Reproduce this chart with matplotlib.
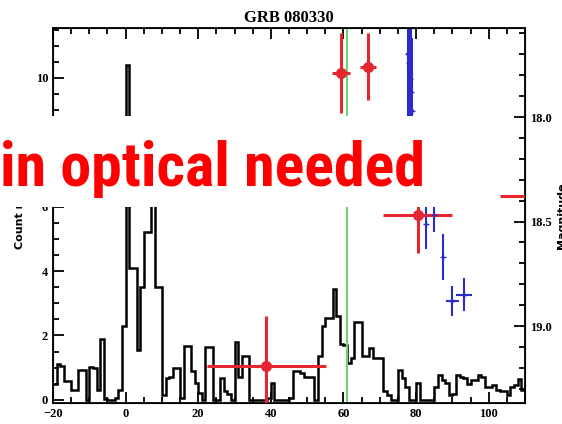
import numpy as np
import matplotlib
matplotlib.use("Agg")
import matplotlib.pyplot as plt
from matplotlib.patches import Rectangle
from matplotlib.ticker import MultipleLocator, FormatStrFormatter
from matplotlib import font_manager

# BAT light curve, 1 s bins starting at t = -20 s
t_start = -20
bin_width = 1.0
counts = [
    0.5, 1.1, 1.05, 0.57, 0.57, 0.31, 0.31, 0.93, 0.93, 0.0,
    1.03, 1.0, 0.3, 1.9, 0.03, 0.0, 0.0, 0.05, 0.3, 2.3,
    10.4, 4.1, 4.1, 1.55, 3.5, 5.2, 5.2, 7.5, 3.5, 3.5,
    0.15, 0.67, 0.72, 1.0, 1.0, 0.05, 1.68, 1.68, 0.88, 0.52,
    0.2, 0.0, 1.64, 1.64, 0.0, 0.0, 0.67, 0.26, 0.19, 0.0,
    1.81, 0.72, 1.35, 1.35, 0.0, 0.0, 0.0, 0.0, 0.0, 0.05,
    0.52, 0.0, 0.0, 0.0, 0.0, 0.05, 0.88, 0.88, 0.83, 0.72,
    0.7, 0.7, 0.0, 1.35, 2.28, 2.54, 2.54, 3.44, 2.6, 1.74,
    1.7, 1.14, 1.3, 2.43, 2.43, 1.35, 1.35, 1.6, 1.3, 1.3,
    1.3, 0.26, 0.15, 0.0, 0.0, 0.93, 0.67, 0.41, 0.0, 0.0,
    0.52, 0.0, 0.0, 0.0, 0.0, 0.41, 0.78, 0.62, 0.52, 0.15,
    0.19, 0.78, 0.72, 0.67, 0.5, 0.62, 0.62, 0.78, 0.72, 0.41,
    0.41, 0.46, 0.31, 0.26, 0.26, 0.15, 0.41, 0.46, 0.65, 0.3,
]

# optical photometry (red) and UVOT-like points (blue), in magnitudes
red_t = [38.7, 59.4, 66.8, 80.4, 118.0]
red_terr = [16.4, 2.5, 2.2, 9.5, 15.0]
red_mag = [19.19, 17.79, 17.76, 18.47, 18.38]
red_magerr = [0.24, 0.19, 0.16, 0.18, 0.0]

blue_t = [77.7, 78.0, 78.3, 78.6, 78.9, 82.8, 85.0, 87.5, 90.0, 93.2]
blue_terr = [0.5, 0.5, 0.5, 0.5, 0.5, 0.3, 1.5, 0.3, 1.9, 2.2]
blue_mag = [17.70, 17.74, 17.82, 17.88, 17.97, 18.51, 18.47, 18.67, 18.88, 18.85]
blue_magerr = [0.4, 0.35, 0.35, 0.35, 0.35, 0.12, 0.08, 0.11, 0.07, 0.08]

trigger_line = 61.0

names = {f.name for f in font_manager.fontManager.ttflist}
big_font = "DejaVu Sans"
for cand in ["Liberation Sans Narrow", "Roboto Condensed", "DejaVu Sans Condensed", "Roboto", "Noto Sans"]:
    if cand in names:
        big_font = cand
        break
serif = "Liberation Serif"

fig = plt.figure(figsize=(5.62, 4.24), dpi=100)
ax = fig.add_axes([0.0943, 0.0495, 0.8399, 0.8844])

edges = t_start + bin_width * np.arange(len(counts) + 1)
ax.stairs(counts, edges, color="black", linewidth=1.8, baseline=None)
ax.axvline(trigger_line, color="#6fd16f", linewidth=1.5, zorder=1)

ax.set_xlim(-20, 110)
ax.set_ylim(-0.1, 11.55)
ax.xaxis.set_major_locator(MultipleLocator(20))
ax.xaxis.set_minor_locator(MultipleLocator(5))
ax.yaxis.set_major_locator(MultipleLocator(2))
ax.yaxis.set_minor_locator(MultipleLocator(0.5))
ax.tick_params(which="both", direction="in", top=True, right=False, width=1.3)
ax.tick_params(which="major", length=8)
ax.tick_params(which="minor", length=4)
for lab in ax.get_xticklabels() + ax.get_yticklabels():
    lab.set_fontfamily(serif)
    lab.set_fontweight("bold")
    lab.set_fontsize(9)
for s in ax.spines.values():
    s.set_linewidth(1.3)
ax.set_ylabel("Count rate", fontsize=8, fontweight="bold", labelpad=8)
ax.set_title("GRB 080330", fontfamily=serif, fontweight="bold", fontsize=12, pad=4)

ax2 = ax.twinx()
ax2.set_ylim(19.368, 17.574)
ax2.yaxis.set_major_locator(MultipleLocator(0.5))
ax2.yaxis.set_minor_locator(MultipleLocator(0.1))
ax2.tick_params(which="both", direction="in", width=1.3)
ax2.tick_params(which="major", length=8)
ax2.tick_params(which="minor", length=4)
ax2.yaxis.set_major_formatter(FormatStrFormatter("%.1f"))
for lab in ax2.get_yticklabels():
    lab.set_fontfamily(serif)
    lab.set_fontweight("bold")
    lab.set_fontsize(9)
ax2.set_ylabel("Magnitude", fontsize=8, fontweight="bold", labelpad=4)

ax2.errorbar(blue_t, blue_mag, xerr=blue_terr, yerr=blue_magerr, fmt="+",
             color="#2b2bc8", ecolor="#2b2bc8", markersize=4, elinewidth=1.5, capsize=0)
ax2.errorbar(red_t, red_mag, xerr=red_terr, yerr=red_magerr, fmt="o",
             color="#e32630", ecolor="#e32630", markersize=7, elinewidth=2.2, capsize=0)

# white banner with red text over the plot
fig.patches.append(Rectangle((0, 1 - 207 / 424), 490 / 562, 91 / 424,
                             transform=fig.transFigure, facecolor="white",
                             edgecolor="none", zorder=10))
banner = fig.text(0.0, 1 - 186 / 424, "in optical needed", color="#ff0000",
                  fontsize=40, fontweight="bold", fontfamily=big_font,
                  ha="left", va="baseline", zorder=11)
# fit the banner text to about 425 px wide
renderer = fig.canvas.get_renderer()
w = banner.get_window_extent(renderer).width
banner.set_fontsize(40 * 425 / w)

fig.savefig("out.png", dpi=100)
